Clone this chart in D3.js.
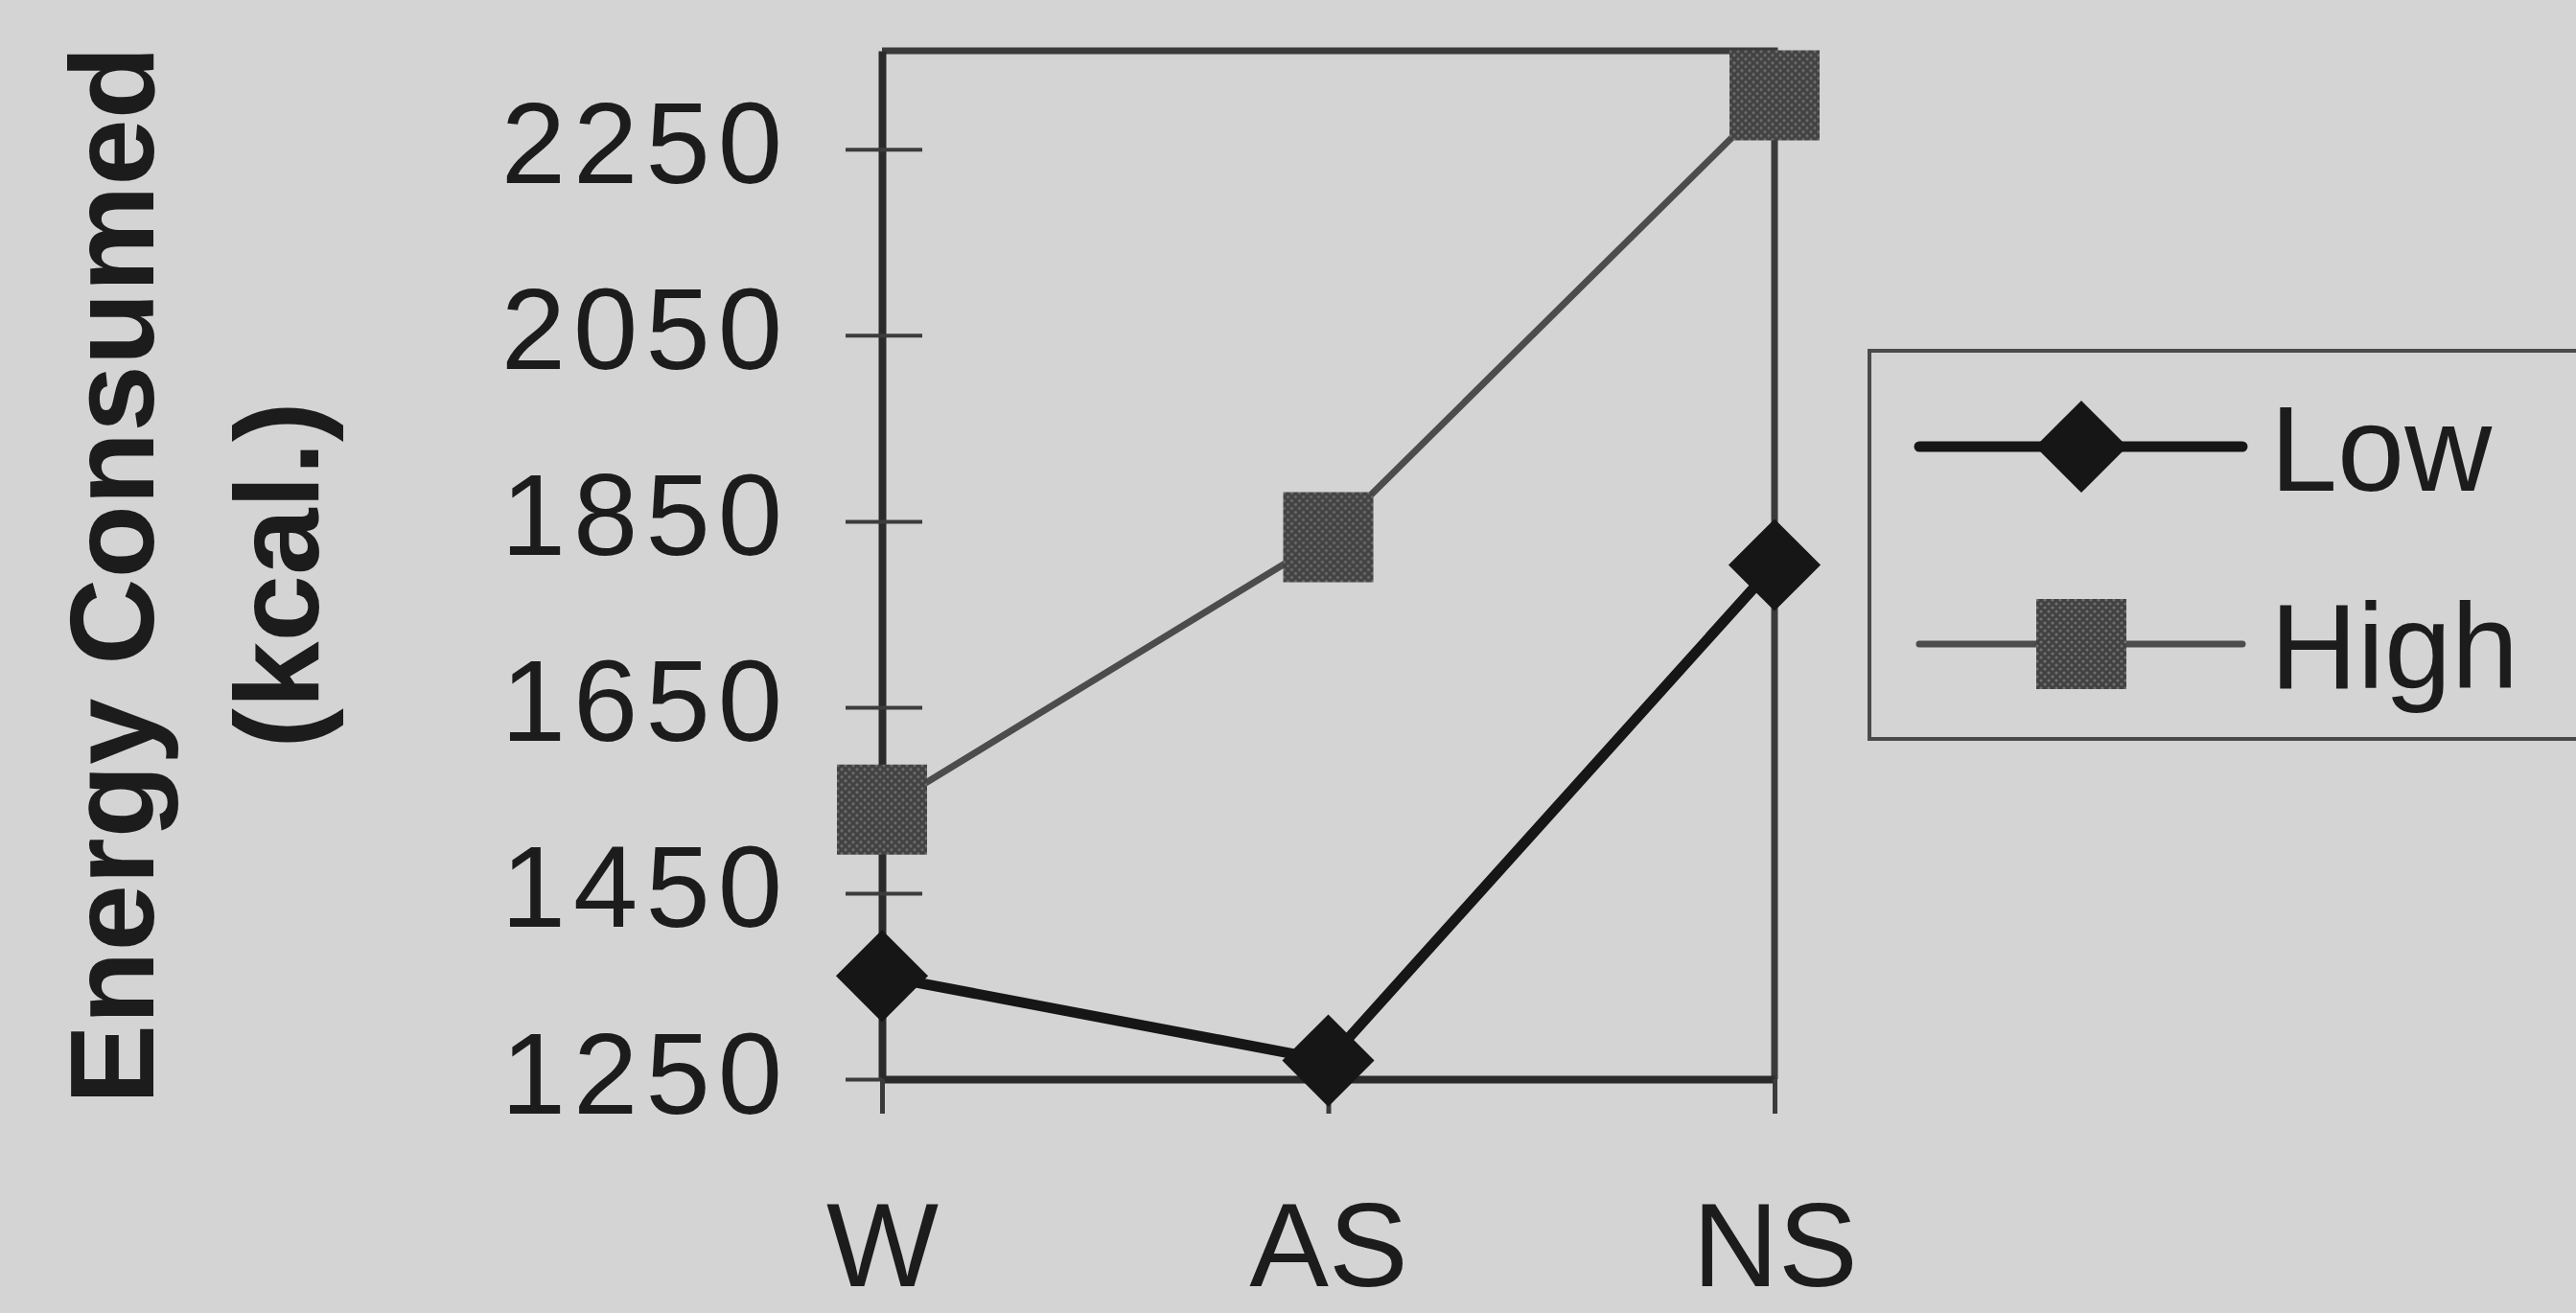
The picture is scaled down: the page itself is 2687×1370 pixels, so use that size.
<!DOCTYPE html>
<html>
<head>
<meta charset="utf-8">
<script src="https://cdn.jsdelivr.net/npm/d3@7"></script>
<style>
html,body{margin:0;padding:0;background:#d4d4d4;overflow:hidden;}
svg{display:block;}
text{font-family:"Liberation Sans",Arial,Helvetica,sans-serif;fill:#1c1c1c;}
</style>
</head>
<body>
<svg id="chart" width="2687" height="1370"></svg>
<script>
// ---- data ----
const categories = ["W", "AS", "NS"];
const lowValues  = [1361, 1270, 1803];
const highValues = [1540, 1833, 2308];
const yTicks = [1250, 1450, 1650, 1850, 2050, 2250];
const yMin = 1250, yMax = 2356;
const seriesNames = ["Low", "High"];
const yTitleLines = ["Energy Consumed", "(kcal.)"];

// ---- layout ----
const W = 2687, H = 1370;
const plot = {left: 920, right: 1851, top: 53, bottom: 1126};

const svg = d3.select("#chart");
svg.append("rect").attr("width", W).attr("height", H).attr("fill", "#d4d4d4");

// dithered pattern for High marker
const defs = svg.append("defs");
const pat = defs.append("pattern").attr("id", "dither")
  .attr("patternUnits", "userSpaceOnUse").attr("width", 8).attr("height", 8);
pat.append("rect").attr("width", 8).attr("height", 8).attr("fill", "#424242");
pat.append("circle").attr("cx", 2).attr("cy", 2).attr("r", 1.6).attr("fill", "#707070");
pat.append("circle").attr("cx", 6).attr("cy", 6).attr("r", 1.6).attr("fill", "#707070");

const x = d3.scalePoint().domain(categories).range([plot.left, plot.right]).padding(0);
const y = d3.scaleLinear().domain([yMin, yMax]).range([plot.bottom, plot.top]);

// frame top & right
svg.append("path")
  .attr("d", `M${x(categories[0])},${y(yMax)}H${x(categories[categories.length-1])}V${y(yMin)}`)
  .attr("fill", "none").attr("stroke", "#3a3a3a").attr("stroke-width", 7);

// y axis
const yAxis = d3.axisLeft(y).tickValues(yTicks).tickSize(38).tickSizeOuter(0).tickPadding(64).tickFormat(d3.format("d"));
const gy = svg.append("g").attr("transform", `translate(${plot.left},0)`).call(yAxis);
gy.select(".domain").attr("stroke", "#2a2a2a").attr("stroke-width", 8);
gy.selectAll(".tick line").attr("stroke", "#3c3c3c").attr("stroke-width", 4)
  .attr("x1", 42);
gy.selectAll(".tick text").attr("font-size", 121).attr("fill", "#1c1c1c")
  .attr("letter-spacing", 8)
  .attr("dy", 35).attr("x", -96);

// x axis
const xAxis = d3.axisBottom(x).tickSize(36).tickPadding(180).tickSizeOuter(0);
const gx = svg.append("g").attr("transform", `translate(0,${plot.bottom})`).call(xAxis);
gx.select(".domain").attr("stroke", "#2a2a2a").attr("stroke-width", 8);
gx.selectAll(".tick line").attr("stroke", "#3a3a3a").attr("stroke-width", 5);
gx.selectAll(".tick text").attr("font-size", 124).attr("fill", "#1c1c1c").attr("dy", 0);

// y title
const yTitle = svg.append("g").attr("font-weight", "bold").attr("font-size", 125);
yTitle.append("text").attr("transform", "translate(160,600) rotate(-90)")
  .attr("text-anchor", "middle").text(yTitleLines[0]);
yTitle.append("text").attr("transform", "translate(332,600) rotate(-90)")
  .attr("text-anchor", "middle").text(yTitleLines[1]);

// lines
const line = d3.line().x((d, i) => x(categories[i])).y(d => y(d));
svg.append("path").datum(highValues).attr("d", line)
  .attr("fill", "none").attr("stroke", "#4c4c4c").attr("stroke-width", 7);
svg.append("path").datum(lowValues).attr("d", line)
  .attr("fill", "none").attr("stroke", "#161616").attr("stroke-width", 11);

const squareSym = d3.symbol(d3.symbolSquare, 94 * 94);
const diamondSym = d3.symbol(d3.symbolSquare, 68 * 68);

svg.append("g").selectAll("path").data(highValues).join("path")
  .attr("d", squareSym)
  .attr("transform", (d, i) => `translate(${x(categories[i])},${y(d)})`)
  .attr("fill", "url(#dither)");
svg.append("g").selectAll("path").data(lowValues).join("path")
  .attr("d", diamondSym)
  .attr("transform", (d, i) => `translate(${x(categories[i])},${y(d)}) rotate(45)`)
  .attr("fill", "#161616");

// legend
const lg = svg.append("g");
lg.append("rect").attr("x", 1950).attr("y", 366).attr("width", 800).attr("height", 405)
  .attr("fill", "none").attr("stroke", "#4a4a4a").attr("stroke-width", 4);
const legendRows = [
  {name: seriesNames[0], y: 466, stroke: "#161616", sw: 11, sym: diamondSym, rot: 45, fill: "#161616"},
  {name: seriesNames[1], y: 672, stroke: "#4c4c4c", sw: 7, sym: squareSym, rot: 0, fill: "url(#dither)"}
];
legendRows.forEach(r => {
  lg.append("line").attr("x1", 2002).attr("x2", 2339).attr("y1", r.y).attr("y2", r.y)
    .attr("stroke", r.stroke).attr("stroke-width", r.sw).attr("stroke-linecap", "round");
  lg.append("path").attr("d", r.sym)
    .attr("transform", `translate(2171,${r.y}) rotate(${r.rot})`).attr("fill", r.fill);
  lg.append("text").attr("x", 2368).attr("y", r.y + 46).attr("font-size", 126).text(r.name);
});
</script>
</body>
</html>
